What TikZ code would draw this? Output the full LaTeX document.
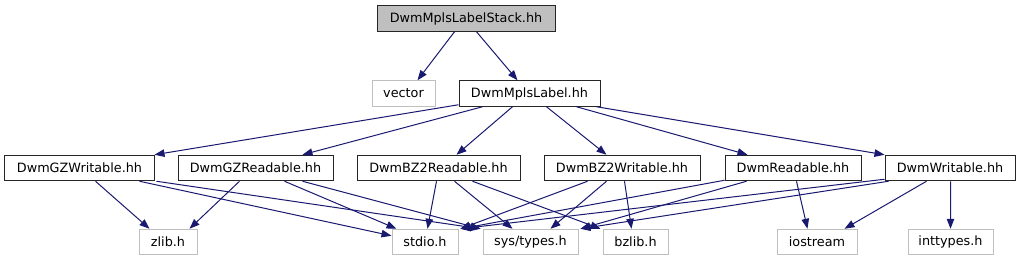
\documentclass[tikz,border=0pt]{standalone}
\usepackage{fontspec}
\setmainfont{DejaVu Sans}
\usetikzlibrary{arrows.meta,calc}
\definecolor{edgeblue}{HTML}{191970}
\definecolor{lightborder}{HTML}{BFBFBF}
\definecolor{topfill}{HTML}{BFBFBF}
\tikzset{
  box/.style={draw=black!85, line width=1bp, fill=white, inner sep=0pt,
    minimum height=25.5bp, text=black,
    font=\fontsize{12.8bp}{15bp}\selectfont},
  gbox/.style={box, draw=lightborder},
  topbox/.style={box, fill=topfill},
  dep/.style={draw=edgeblue, line width=1bp,
    -{Triangle[length=10bp,width=7.5bp]}, color=edgeblue},
}
\begin{document}
\begin{tikzpicture}[x=1bp,y=-1bp]
\useasboundingbox (0,0) rectangle (1021,261);
% rows
\node[topbox, minimum width=178bp] (top) at (466,18.5) {DwmMplsLabelStack.hh};
\node[gbox, minimum width=63bp] (vec) at (403.5,93.5) {vector};
\node[box, minimum width=141bp] (mpls) at (529.5,93.5) {DwmMplsLabel.hh};
\node[box, minimum width=149bp] (gzw) at (79.5,168) {DwmGZWritable.hh};
\node[box, minimum width=155bp] (gzr) at (255.5,168) {DwmGZReadable.hh};
\node[box, minimum width=163bp] (bzr) at (438.5,168) {DwmBZ2Readable.hh};
\node[box, minimum width=156bp] (bzw) at (622,168) {DwmBZ2Writable.hh};
\node[box, minimum width=136bp] (rd) at (793,168) {DwmReadable.hh};
\node[box, minimum width=130bp] (wr) at (950,168) {DwmWritable.hh};
\node[gbox, minimum width=58bp] (zlib) at (168,242) {zlib.h};
\node[gbox, minimum width=66bp] (stdio) at (425,242) {stdio.h};
\node[gbox, minimum width=95bp] (sys) at (530.5,242) {sys/types.h};
\node[gbox, minimum width=65bp] (bzlib) at (635.5,242) {bzlib.h};
\node[gbox, minimum width=80bp] (ios) at (817,242) {iostream};
\node[gbox, minimum width=85bp] (intt) at (950.5,242) {inttypes.h};
% top edges
\draw[dep] ($(top.south west)+(78,0)$) -- ($(vec.north west)+(46,0)$);
\draw[dep] ($(top.south west)+(100,0)$) -- ($(mpls.north west)+(59,0)$);
% from DwmMplsLabel
\draw[dep] ($(mpls.south west)+(0,-2)$) -- (gzw.north east);
\draw[dep] ($(mpls.south west)+(24,0)$) -- ($(gzr.north west)+(125,0)$);
\draw[dep] ($(mpls.south west)+(54,0)$) -- ($(bzr.north west)+(100,0)$);
\draw[dep] ($(mpls.south west)+(88,0)$) -- ($(bzw.north west)+(63,0)$);
\draw[dep] ($(mpls.south west)+(118,0)$) -- ($(rd.north west)+(23,0)$);
\draw[dep] ($(mpls.south west)+(138,0)$) -- (wr.north west);
% DwmGZWritable
\draw[dep] ($(gzw.south west)+(91,0)$) -- ($(zlib.north west)+(11,0)$);
\draw[dep] ($(gzw.south west)+(135,0)$) -- ($(stdio.north west)+(0,7)$);
\draw[dep] ($(gzw.south west)+(152,0)$) -- ($(sys.north west)+(-2,0)$);
% DwmGZReadable
\draw[dep] ($(gzr.south west)+(62,0)$) -- ($(zlib.north west)+(51,0)$);
\draw[dep] ($(gzr.south west)+(107,0)$) -- ($(stdio.north west)+(5,0)$);
\draw[dep] ($(gzr.south west)+(125,0)$) -- ($(sys.north west)+(-2,0)$);
% DwmBZ2Readable
\draw[dep] ($(bzr.south west)+(80,0)$) -- ($(stdio.north west)+(36,0)$);
\draw[dep] ($(bzr.south west)+(98,0)$) -- ($(sys.north west)+(30,0)$);
\draw[dep] ($(bzr.south west)+(116,0)$) -- ($(bzlib.north west)+(-2,0)$);
% DwmBZ2Writable
\draw[dep] ($(bzw.south west)+(44,0)$) -- ($(stdio.north east)+(2,0)$);
\draw[dep] ($(bzw.south west)+(63,0)$) -- ($(sys.north west)+(68,0)$);
\draw[dep] ($(bzw.south west)+(81,0)$) -- ($(bzlib.north west)+(29,0)$);
% DwmReadable
\draw[dep] ($(rd.south west)+(0,-1)$) -- ($(stdio.north east)+(2,0)$);
\draw[dep] ($(rd.south west)+(22,0)$) -- ($(sys.north east)+(2,0)$);
\draw[dep] ($(rd.south west)+(72,0)$) -- ($(ios.north west)+(31,0)$);
% DwmWritable
\draw[dep] ($(wr.south west)+(0,-2)$) -- ($(stdio.north east)+(2,0)$);
\draw[dep] ($(wr.south west)+(4,0)$) -- ($(sys.north east)+(2,0)$);
\draw[dep] ($(wr.south west)+(42,0)$) -- ($(ios.north west)+(68,0)$);
\draw[dep] ($(wr.south west)+(66,0)$) -- (intt.north);
\end{tikzpicture}
\end{document}
